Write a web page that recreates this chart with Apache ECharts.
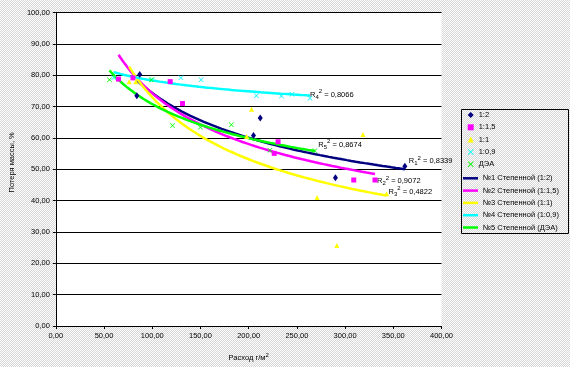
<!DOCTYPE html>
<html><head><meta charset="utf-8">
<script src="https://cdn.jsdelivr.net/npm/echarts@6/dist/echarts.min.js"></script>
<style>html,body{margin:0;padding:0;}#c{width:570px;height:367px;}</style>
</head><body><div id="c"></div>
<script>
// ---- data ----
const x12 = [84, 87, 205, 212, 290, 362];
const y12 = [73.5, 80.3, 60.8, 66.4, 47.3, 51.0];
const x115 = [65, 80, 118.6, 131.4, 226.5, 230.5, 309, 331];
const y115 = [78.8, 79.2, 78.0, 71.0, 55.1, 58.8, 46.6, 46.6];
const x11 = [76, 83, 198, 203, 271, 291.5, 318.5, 343];
const y11 = [78.0, 78.0, 60.5, 69.2, 41.0, 25.7, 61.1, 42.2];
const x109 = [60, 100, 129.7, 150.7, 208, 234, 245, 263.6];
const y109 = [79.2, 78.6, 79.2, 78.6, 73.5, 73.4, 74.0, 72.7];
const xdea = [55.6, 99, 121, 150, 182, 222, 268.6];
const ydea = [78.6, 78.6, 64.0, 63.4, 64.2, 56.1, 55.9];
const pointNames = ['1:2', '1:1,5', '1:1', '1:0,9', 'ДЭА'];
const trendNames = ['№1 Степенной (1:2)', '№2 Степенной (1:1,5)', '№3 Степенной (1:1)', '№4 Степенной (1:0,9)', '№5 Степенной (ДЭА)'];
const r2Values = ['0,8339', '0,9072', '0,4822', '0,8066', '0,8674'];
const xTicks = [0, 50, 100, 150, 200, 250, 300, 350, 400];
const yTicks = [0, 10, 20, 30, 40, 50, 60, 70, 80, 90, 100];

const xs = [x12, x115, x11, x109, xdea];
const ys = [y12, y115, y11, y109, ydea];
const colors = ['#000080', '#FF00FF', '#FFFF00', '#00FFFF', '#00FF00'];
const XPATH = 'path://M0,1L1,0L5,4L9,0L10,1L6,5L10,9L9,10L5,6L1,10L0,9L4,5Z';
const symbols = ['diamond', 'rect', 'triangle', XPATH, XPATH];
const symSizes = [[5, 7], 5, 5, 5, 5];
const labelOffsets = [[4, -8], [2, 7], [2, -4], [0, -1], [3.5, -6.5]];

// power-law (Excel "Степенной") least-squares trendline
function powerFit(x, y) {
  const n = x.length;
  const lx = x.map(Math.log), ly = y.map(Math.log);
  const mx = lx.reduce((a, b) => a + b, 0) / n, my = ly.reduce((a, b) => a + b, 0) / n;
  let sxy = 0, sxx = 0;
  for (let i = 0; i < n; i++) { sxy += (lx[i] - mx) * (ly[i] - my); sxx += (lx[i] - mx) ** 2; }
  const b = sxy / sxx, a = my - b * mx;
  const x0 = Math.min(...x), x1 = Math.max(...x);
  const pts = [];
  const N = 60;
  for (let i = 0; i <= N; i++) {
    const xv = x0 + (x1 - x0) * i / N;
    pts.push([xv, Math.exp(a + b * Math.log(xv))]);
  }
  return pts;
}

// background dither
const pc = document.createElement('canvas'); pc.width = 2; pc.height = 2;
const pctx = pc.getContext('2d');
pctx.fillStyle = '#ffffff'; pctx.fillRect(0, 0, 2, 2);
pctx.fillStyle = '#d6d6d6'; pctx.fillRect(1, 0, 1, 1); pctx.fillRect(0, 1, 1, 1);
document.getElementById('c').style.backgroundImage = 'url(' + pc.toDataURL() + ')';

const FONT = 'Liberation Sans';
const series = [];
for (let i = 0; i < 5; i++) {
  series.push({
    name: trendNames[i], type: 'line', data: powerFit(xs[i], ys[i]),
    symbol: 'none', showSymbol: false, smooth: false, z: 3,
    lineStyle: { color: colors[i], width: 2.5 }, itemStyle: { color: colors[i] },
    endLabel: {
      show: true, distance: 0, offset: labelOffsets[i], color: '#000',
      formatter: () => '{r|R}{sub|' + (i + 1) + '}{sup|2}{t| = ' + r2Values[i] + '}',
      rich: {
        r: { fontSize: 7.5, fontFamily: FONT, color: '#000' },
        sub: { fontSize: 6, fontFamily: FONT, color: '#000', padding: [5, 0, 0, 0] },
        sup: { fontSize: 6, fontFamily: FONT, color: '#000', padding: [0, 0, 6, 0] },
        t: { fontSize: 7.5, fontFamily: FONT, color: '#000' }
      }
    }
  });
}
for (let i = 0; i < 5; i++) {
  series.push({
    name: pointNames[i], type: 'scatter', z: 4,
    data: xs[i].map((v, k) => [v, ys[i][k]]),
    symbol: symbols[i], symbolSize: symSizes[i],
    itemStyle: { color: colors[i], opacity: 1 }
  });
}

const fmt = v => v.toFixed(2).replace('.', ',');
const chart = echarts.init(document.getElementById('c'), null, { renderer: 'canvas' });
chart.setOption({
  backgroundColor: 'transparent',
  animation: false,
  textStyle: { fontFamily: FONT },
  grid: { left: 46, right: 128.5, top: 12.7, bottom: 36, show: true, backgroundColor: '#ffffff', borderWidth: 0 },
  xAxis: {
    type: 'value', min: xTicks[0], max: xTicks[xTicks.length - 1], interval: 50,
    axisLine: { lineStyle: { color: '#000', width: 1 } },
    axisTick: { show: true, length: 3, lineStyle: { color: '#000' } },
    axisLabel: { color: '#000', fontSize: 7.5, fontFamily: FONT, margin: 6, formatter: fmt },
    splitLine: { show: false },
    name: '{a|Расход г/м}{s|2}', nameLocation: 'middle', nameGap: 26,
    nameTextStyle: { rich: { a: { fontSize: 7.5, fontFamily: FONT, color: '#000' }, s: { fontSize: 6, fontFamily: FONT, color: '#000', padding: [0, 0, 6, 0] } } }
  },
  yAxis: {
    type: 'value', min: yTicks[0], max: yTicks[yTicks.length - 1], interval: 10,
    axisLine: { show: true, lineStyle: { color: '#000', width: 1 } },
    axisTick: { show: true, length: 3, lineStyle: { color: '#000' } },
    axisLabel: { color: '#000', fontSize: 7.5, fontFamily: FONT, margin: 6, formatter: fmt },
    splitLine: { show: true, lineStyle: { color: '#000', width: 1 } },
    name: 'Потеря массы, %', nameLocation: 'middle', nameGap: 37, nameRotate: 90,
    nameTextStyle: { color: '#000', fontSize: 7.5, fontFamily: FONT, padding: [0, 0, 0, 14] }
  },
  legend: [
    {
      data: pointNames.map((n, i) => ({ name: n, icon: symbols[i] })), orient: 'vertical', left: 467.7, top: 111,
      padding: 0, itemWidth: 6, itemHeight: 6, itemGap: 4.3,
      textStyle: { color: '#000', fontSize: 7.5, fontFamily: FONT }, selectedMode: false
    },
    {
      data: trendNames.map(n => ({ name: n, icon: 'rect' })), orient: 'vertical', left: 463, top: 174.3,
      padding: 0, itemWidth: 15, itemHeight: 2.5, itemGap: 4.3,
      textStyle: { color: '#000', fontSize: 7.5, fontFamily: FONT }, selectedMode: false
    }
  ],
  graphic: [{
    type: 'rect', shape: { x: 461.5, y: 109.5, width: 107, height: 124 },
    style: { fill: 'transparent', stroke: '#000', lineWidth: 1 }, silent: true
  }],
  series: series
});
</script></body></html>
